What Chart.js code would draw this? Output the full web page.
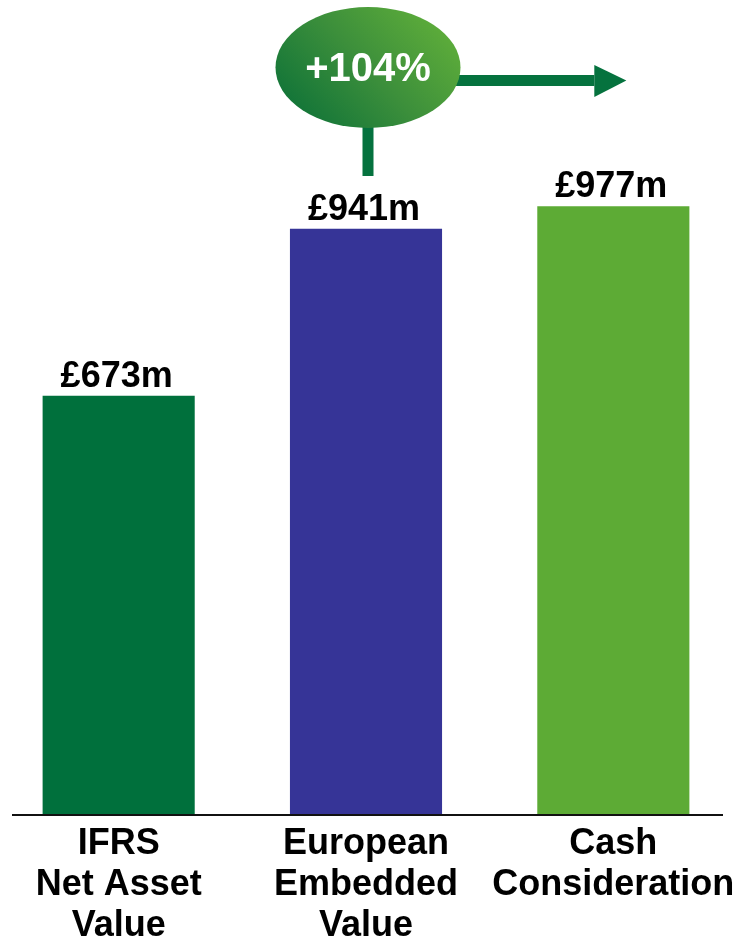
<!DOCTYPE html>
<html lang="en">
<head>
  <meta charset="UTF-8">
  <title>Value comparison</title>
  <script src="https://cdn.jsdelivr.net/npm/chart.js"></script>
  <style>
    html, body {
      margin: 0;
      padding: 0;
      background: #fff;
      overflow: hidden;
    }
    /* canvas is a little wider than the page so the first bar sits near the edge */
    #wrap {
      width: 750px;
      height: 942px;
      margin-left: -5px;
    }
  </style>
</head>
<body>
  <div id="wrap"><canvas id="chart"></canvas></div>

  <script>
    // values in £m
    const categories = [
      ['IFRS', 'Net Asset', 'Value'],
      ['European', 'Embedded', 'Value'],
      ['Cash', 'Consideration']
    ];
    const values = [673, 941, 977];
    const barColors = ['#00703c', '#363497', '#5dab35'];
    const uplift = '+104%';

    const FONT = '"Liberation Sans", Arial, sans-serif';

    // value labels, baseline rule and the uplift bubble with arrows
    const overlay = {
      id: 'overlay',
      afterDatasetsDraw(chart) {
        const ctx = chart.ctx;
        const bars = chart.getDatasetMeta(0).data;
        const yScale = chart.scales.y;
        ctx.save();

        // value labels
        ctx.fillStyle = '#000';
        ctx.font = 'bold 36px ' + FONT;
        ctx.textAlign = 'center';
        ctx.textBaseline = 'alphabetic';
        bars.forEach((bar, i) => {
          ctx.fillText('£' + values[i] + 'm', bar.x - 2, bar.y - 9);
        });

        // baseline (canvas is offset 5px to the left)
        const y0 = yScale.getPixelForValue(0);
        ctx.strokeStyle = '#111';
        ctx.lineWidth = 2;
        ctx.beginPath();
        ctx.moveTo(17, y0);
        ctx.lineTo(728, y0);
        ctx.stroke();

        // bubble geometry
        const cx = bars[1].x + 2;
        const cy = 67.5;
        const rx = 92.5;
        const ry = 60.5;
        const arrowColor = '#05723e';

        // connector down towards the middle bar
        ctx.fillStyle = arrowColor;
        ctx.fillRect(cx - 5.5, cy + ry - 4, 11, 52);

        // arrow pointing at the last bar
        const tipX = bars[2].x + 13;
        ctx.fillRect(cx + rx - 8, 75, tipX - 32 - (cx + rx - 8), 11);
        ctx.beginPath();
        ctx.moveTo(tipX - 32, 65);
        ctx.lineTo(tipX, 80.5);
        ctx.lineTo(tipX - 32, 97);
        ctx.closePath();
        ctx.fill();

        // bubble
        const grad = ctx.createLinearGradient(cx - rx * 0.7, cy + ry, cx + rx * 0.7, cy - ry);
        grad.addColorStop(0, '#107338');
        grad.addColorStop(0.5, '#3c8f3b');
        grad.addColorStop(1, '#5fae3a');
        ctx.fillStyle = grad;
        ctx.beginPath();
        ctx.ellipse(cx, cy, rx, ry, 0, 0, Math.PI * 2);
        ctx.fill();

        ctx.fillStyle = '#fff';
        ctx.font = 'bold 40px ' + FONT;
        ctx.textBaseline = 'middle';
        ctx.fillText(uplift, cx, cy + 2);

        ctx.restore();
      }
    };

    new Chart(document.getElementById('chart'), {
      type: 'bar',
      data: {
        labels: categories,
        datasets: [{
          data: values,
          backgroundColor: barColors,
          borderWidth: 0,
          barPercentage: 0.615,
          categoryPercentage: 1
        }]
      },
      options: {
        responsive: true,
        maintainAspectRatio: false,
        animation: false,
        layout: {
          padding: { left: 0, right: 8, top: 5, bottom: 0 }
        },
        plugins: {
          legend: { display: false },
          tooltip: { enabled: false }
        },
        scales: {
          x: {
            grid: { display: false, drawTicks: false },
            border: { display: false },
            ticks: {
              color: '#000',
              padding: 9,
              maxRotation: 0,
              autoSkip: false,
              font: { family: FONT, size: 36, weight: 'bold', lineHeight: '41px' }
            },
            afterFit(scale) {
              scale.height = 127;
            }
          },
          y: {
            display: false,
            min: 0,
            max: 1300
          }
        }
      },
      plugins: [overlay]
    });
  </script>
</body>
</html>
